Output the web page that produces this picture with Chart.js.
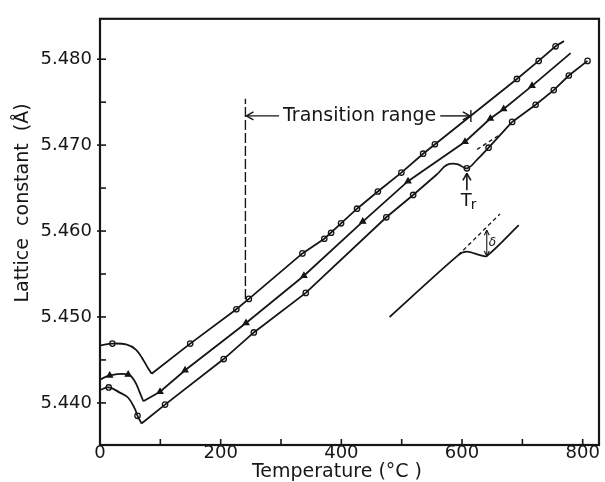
<!DOCTYPE html>
<html><head><meta charset="utf-8">
<script src="https://cdn.jsdelivr.net/npm/chart.js@4.4.1/dist/chart.umd.min.js"></script>
<style>html,body{margin:0;padding:0;background:#fff;}canvas{display:block;}</style>
</head><body>
<canvas id="c" width="605" height="482"></canvas>
<script>
// ---- axis ticks ----
const X_LABEL_TICKS = [0, 200, 400, 600, 800];
const X_MINOR_TICKS = [100, 200, 300, 400, 500, 600, 700, 800];
const Y_LABEL_TICKS = [5.440, 5.450, 5.460, 5.470, 5.480];
const Y_MINOR_TICKS = [5.445, 5.455, 5.465, 5.475];

// ---- series A (top, open markers) ----
const A_curveT = [0, 20.5, 43.3, 59.4, 71.7, 80, 85.5];
const A_curveV = [5.4467, 5.4469, 5.4468, 5.4462, 5.4450, 5.4440, 5.4434];
const A_lineT  = [85.5, 149.5, 226, 246.7, 335.5, 371.7, 399.5, 426, 460.5, 499.5, 535.5, 691, 727, 755, 769];
const A_lineV  = [5.4434, 5.4469, 5.4509, 5.4521, 5.4574, 5.4591, 5.4609, 5.4626, 5.4646, 5.4668, 5.4690, 5.4777, 5.4798, 5.4815, 5.4821];
const A_markT  = [20.5, 149.5, 226, 246.7, 335.5, 371.7, 383, 399.5, 426, 460.5, 499.5, 535.5, 555, 691, 727, 755];
const A_markV  = [5.4469, 5.4469, 5.4509, 5.4521, 5.4574, 5.4591, 5.4598, 5.4609, 5.4626, 5.4646, 5.4668, 5.4690, 5.4701, 5.4777, 5.4798, 5.4815];

// ---- series B (middle, filled triangles) ----
const B_curveT = [0, 16, 46.7, 57.8, 66, 71.7];
const B_curveV = [5.4427, 5.4432, 5.4433, 5.4425, 5.4412, 5.4402];
const B_lineT  = [71.7, 99.5, 141, 242, 338, 435.5, 510.5, 605, 647, 669, 716, 780];
const B_lineV  = [5.4402, 5.4413, 5.4438, 5.4493, 5.4548, 5.4611, 5.4658, 5.4704, 5.4731, 5.4742, 5.4769, 5.4807];
const B_markT  = [16, 46.7, 99.5, 141, 242, 338, 435.5, 510.5, 605, 647, 669, 716];
const B_markV  = [5.4432, 5.4433, 5.4413, 5.4438, 5.4493, 5.4548, 5.4611, 5.4658, 5.4704, 5.4731, 5.4742, 5.4769];

// ---- series C (bottom, open circles, transition at Tr) ----
const C_curveT = [0, 14.5, 32.8, 46.7, 57.8, 62.2, 68.8];
const C_curveV = [5.4415, 5.4418, 5.4412, 5.4406, 5.4393, 5.4385, 5.4376];
const C_lineT  = [68.8, 107.8, 205, 255, 341, 474.5, 519, 560];
const C_lineV  = [5.4376, 5.4398, 5.4451, 5.4482, 5.4528, 5.4616, 5.4642, 5.4667];
const C_transT = [560, 575, 592, 608, 625, 644, 683];
const C_transV = [5.4667, 5.4677, 5.4678, 5.4673, 5.4683, 5.4697, 5.4727];
const C_line2T = [683, 722, 752, 777, 808];
const C_line2V = [5.4727, 5.4747, 5.4764, 5.4781, 5.4798];
const C_markT  = [14.5, 62.2, 107.8, 205, 255, 341, 474.5, 519, 608, 644, 683, 722, 752, 777, 808];
const C_markV  = [5.4418, 5.4385, 5.4398, 5.4451, 5.4482, 5.4528, 5.4616, 5.4642, 5.4673, 5.4697, 5.4727, 5.4747, 5.4764, 5.4781, 5.4798];
const C_dashT  = [625, 660];
const C_dashV  = [5.4695, 5.4711];

// ---- transition-range marker ----
const TR_START = 241, TR_END = 613, TR_LEVEL = 5.4734;
const TR_VLINE_T = [241, 241];
const TR_VLINE_V = [5.4521, 5.4754];
const TR_POINT = {t: 608, v: 5.4673};

// ---- inset sketch ----
const I_solidT = [480, 593.8, 607.8, 630, 641, 694];
const I_solidV = [5.4500, 5.4572, 5.4576, 5.4572, 5.4571, 5.4607];
const I_dashT  = [593.8, 663];
const I_dashV  = [5.4572, 5.4620];
const I_delta  = {t: 641, top: 5.4601, bottom: 5.4571};

const pts = (T, V) => T.map((t, i) => ({x: t, y: V[i]}));
const INK = '#161616';
const FONT = '"DejaVu Sans", sans-serif';

function lineDS(T, V, opts = {}) {
  return Object.assign({data: pts(T, V), showLine: true, borderColor: INK, borderWidth: 1.8,
    pointRadius: 0, pointHoverRadius: 0, tension: 0, fill: false}, opts);
}
function markDS(T, V, style, filled) {
  return {data: pts(T, V), showLine: false, pointStyle: style, pointRadius: style === 'triangle' ? 3.2 : 2.7,
    pointBorderWidth: 1.3, pointBorderColor: INK, pointBackgroundColor: filled ? INK : '#fff', pointHoverRadius: 0};
}

const annot = {
  id: 'annot',
  afterDraw(chart) {
    const {ctx, chartArea: a, scales: {x, y}} = chart;
    ctx.save();
    ctx.strokeStyle = INK; ctx.fillStyle = INK; ctx.lineCap = 'butt';
    const ln = (x1, y1, x2, y2) => { ctx.beginPath(); ctx.moveTo(x1, y1); ctx.lineTo(x2, y2); ctx.stroke(); };
    // frame
    ctx.lineWidth = 2.2;
    ctx.strokeRect(a.left, a.top, a.right - a.left, a.bottom - a.top);
    // inward ticks
    ctx.lineWidth = 1.6;
    X_MINOR_TICKS.forEach(t => { const px = x.getPixelForValue(t); ln(px, a.bottom, px, a.bottom - 6); });
    Y_MINOR_TICKS.forEach(v => { const py = y.getPixelForValue(v); ln(a.left, py, a.left + 6, py); });
    Y_LABEL_TICKS.forEach(v => { const py = y.getPixelForValue(v); ln(a.left - 3, py, a.left + 6, py); });

    // transition range arrow + text
    ctx.lineWidth = 1.4;
    const py = y.getPixelForValue(TR_LEVEL);
    const x1 = x.getPixelForValue(TR_START), x2 = x.getPixelForValue(TR_END);
    ctx.font = '19px ' + FONT;
    ctx.textBaseline = 'middle'; ctx.textAlign = 'center';
    const label = 'Transition range';
    const w = ctx.measureText(label).width;
    const cx = (x1 + x2) / 2 + 2;
    ctx.fillText(label, cx, py);
    ln(x1 + 1, py, cx - w / 2 - 4, py);
    ln(cx + w / 2 + 4, py, x2, py);
    ln(x1 + 1, py, x1 + 8, py - 4); ln(x1 + 1, py, x1 + 8, py + 4);
    ln(x2, py, x2 - 7, py - 4); ln(x2, py, x2 - 7, py + 4);
    ln(x2 + 1, py - 6, x2 + 1, py + 6);

    // Tr arrow
    const tx = x.getPixelForValue(TR_POINT.t), ty = y.getPixelForValue(TR_POINT.v);
    ctx.lineWidth = 1.6;
    ln(tx, ty + 5, tx, ty + 22);
    ln(tx, ty + 5, tx - 4, ty + 12); ln(tx, ty + 5, tx + 4, ty + 12);
    ctx.textAlign = 'left'; ctx.textBaseline = 'alphabetic';
    ctx.font = '18px ' + FONT;
    ctx.fillText('T', tx - 6, ty + 38);
    ctx.font = '14px ' + FONT;
    ctx.fillText('r', tx + 4, ty + 41);

    // inset delta arrow
    const dx = x.getPixelForValue(I_delta.t), dt = y.getPixelForValue(I_delta.top), db = y.getPixelForValue(I_delta.bottom);
    ctx.lineWidth = 1.1;
    ln(dx, dt, dx, db);
    ln(dx, dt, dx - 2.5, dt + 5); ln(dx, dt, dx + 2.5, dt + 5);
    ln(dx, db, dx - 2.5, db - 5); ln(dx, db, dx + 2.5, db - 5);
    ctx.font = 'italic 12px ' + FONT;
    ctx.textAlign = 'left'; ctx.textBaseline = 'middle';
    ctx.fillText('δ', dx + 2, (dt + db) / 2);

    // axis titles
    ctx.font = '19px ' + FONT;
    ctx.textAlign = 'center'; ctx.textBaseline = 'middle';
    ctx.fillText('Temperature (°C )', 337, 472);
    ctx.translate(23, 203);
    ctx.rotate(-Math.PI / 2);
    ctx.fillText('Lattice  constant  (Å)', 0, 0);
    ctx.restore();
  }
};

new Chart(document.getElementById('c'), {
  type: 'scatter',
  data: {
    datasets: [
      lineDS(A_curveT, A_curveV, {tension: 0.4}),
      lineDS(A_lineT, A_lineV),
      markDS(A_markT, A_markV, 'circle', false),
      lineDS(B_curveT, B_curveV, {tension: 0.4}),
      lineDS(B_lineT, B_lineV),
      markDS(B_markT, B_markV, 'triangle', true),
      lineDS(C_curveT, C_curveV, {tension: 0.4}),
      lineDS(C_lineT, C_lineV),
      lineDS(C_transT, C_transV, {tension: 0.4}),
      lineDS(C_line2T, C_line2V),
      lineDS(C_dashT, C_dashV, {borderDash: [4, 3], borderWidth: 1.3}),
      markDS(C_markT, C_markV, 'circle', false),
      lineDS(TR_VLINE_T, TR_VLINE_V, {borderDash: [10, 3], borderWidth: 1.4}),
      lineDS(I_solidT, I_solidV, {tension: 0.3}),
      lineDS(I_dashT, I_dashV, {borderDash: [4, 3], borderWidth: 1.3})
    ]
  },
  options: {
    responsive: false, animation: false, devicePixelRatio: 1,
    layout: {padding: {left: 0, right: 6, top: 12, bottom: 0}},
    plugins: {legend: {display: false}, tooltip: {enabled: false}},
    scales: {
      x: {
        type: 'linear', min: 0, max: 827,
        afterFit: s => { s.height = 37; },
        afterBuildTicks: s => { s.ticks = X_LABEL_TICKS.map(v => ({value: v})); },
        grid: {display: false, drawTicks: false},
        border: {display: false},
        ticks: {color: INK, font: {family: FONT, size: 18}, padding: -2, maxRotation: 0, autoSkip: false,
          callback: v => String(v)}
      },
      y: {
        type: 'linear', min: 5.4351, max: 5.4847,
        afterFit: s => { s.width = 100; },
        afterBuildTicks: s => { s.ticks = Y_LABEL_TICKS.map(v => ({value: v})); },
        grid: {display: false, drawTicks: false},
        border: {display: false},
        ticks: {color: INK, font: {family: FONT, size: 18}, padding: 8, autoSkip: false,
          callback: v => Number(v).toFixed(3)}
      }
    }
  },
  plugins: [annot]
});
</script>
</body></html>
